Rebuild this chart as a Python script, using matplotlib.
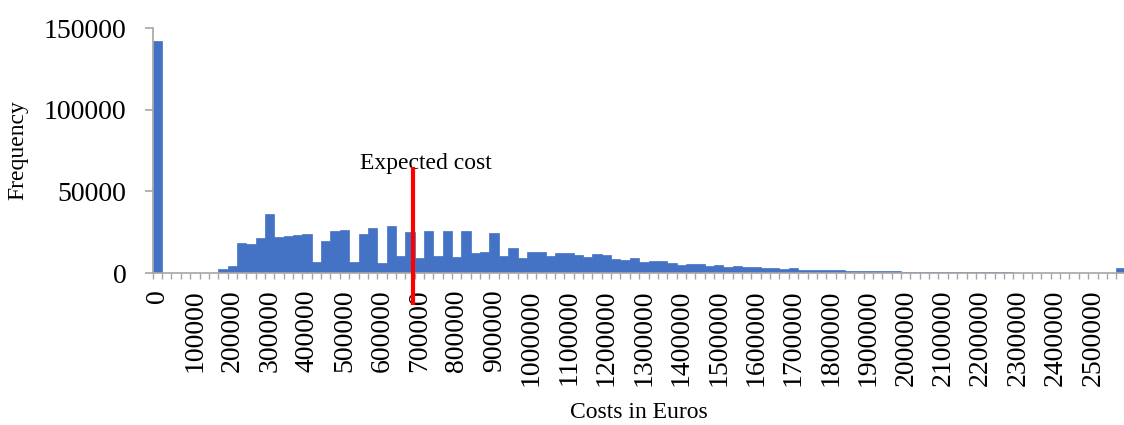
import numpy as np
import matplotlib
matplotlib.use("Agg")
import matplotlib.pyplot as plt

plt.rcParams['font.family'] = ['Liberation Serif', 'DejaVu Serif']

# histogram bins of 25000 euro, first bin = 0
bin_width = 25000
frequency = [
    142000, 0, 0, 0, 0, 0, 0, 2700, 4300, 18600,
    17800, 21200, 36300, 22300, 22900, 23500, 23700, 6500, 19800, 25500,
    26100, 7000, 23700, 27500, 6100, 28800, 10400, 25100, 9200, 26000,
    10600, 25500, 10000, 26000, 12500, 12700, 24300, 10200, 15100, 9400,
    12900, 12900, 10400, 12500, 12000, 10800, 10000, 11900, 10800, 8400,
    8000, 8900, 7000, 7600, 7100, 6300, 4700, 5700, 5300, 4300,
    4900, 3900, 4300, 3500, 3900, 3300, 3100, 2400, 2900, 2000,
    2000, 2000, 1800, 1600, 1400, 1400, 1300, 1200, 1100, 1000,
    900, 800, 700, 650, 600, 500, 500, 450, 400, 400,
    350, 350, 300, 250, 250, 200, 200, 150, 150, 100,
    100, 100, 100, 3000,
]
tick_values = [0, 100000, 200000, 300000, 400000, 500000, 600000, 700000,
               800000, 900000, 1000000, 1100000, 1200000, 1300000, 1400000,
               1500000, 1600000, 1700000, 1800000, 1900000, 2000000,
               2100000, 2200000, 2300000, 2400000, 2500000]
tick_labels = [str(v) for v in tick_values]
expected_cost = 682000

n = len(frequency)
centers = np.arange(n) * bin_width

fig = plt.figure(figsize=(11.24, 4.25), dpi=100)
ax = fig.add_axes([0.1359, 0.3576, 0.8655, 0.5765])

blue = '#4472C4'
grey = '#A6A6A6'
ax.bar(centers, frequency, width=bin_width, color=blue, edgecolor=blue, linewidth=0.5)

ax.set_xlim(-bin_width / 2, centers[-1] + bin_width / 2)
ax.set_ylim(0, 150000)
ax.set_yticks([0, 50000, 100000, 150000])
ax.set_yticklabels(['0', '50000', '100000', '150000'])

ax.set_xticks(tick_values)
ax.set_xticklabels(tick_labels, rotation=90)
ax.set_xticks(np.arange(n + 1) * bin_width - bin_width / 2, minor=True)

for s in ['top', 'right']:
    ax.spines[s].set_visible(False)
for s in ['left', 'bottom']:
    ax.spines[s].set_color(grey)
    ax.spines[s].set_linewidth(1.2)

ax.tick_params(axis='y', length=6, width=1.2, color=grey, pad=13, labelsize=20)
ax.tick_params(axis='x', which='major', length=0, pad=12, labelsize=20)
ax.tick_params(axis='x', which='minor', length=4, width=1, color=grey)

# expected cost marker
ax.plot([expected_cost, expected_cost], [-19500, 65000], color='red', lw=3,
        solid_capstyle='butt', clip_on=False, zorder=5)
ax.text(717000, 63800, 'Expected cost', ha='center', va='baseline', fontsize=17)

ax.set_ylabel('Frequency', fontsize=17, va='center')
ax.yaxis.set_label_coords(-0.139, 0.5)
ax.set_xlabel('Costs in Euros', fontsize=17, va='top')
ax.xaxis.set_label_coords(0.5, -0.525)

fig.savefig('out.png', dpi=100)
